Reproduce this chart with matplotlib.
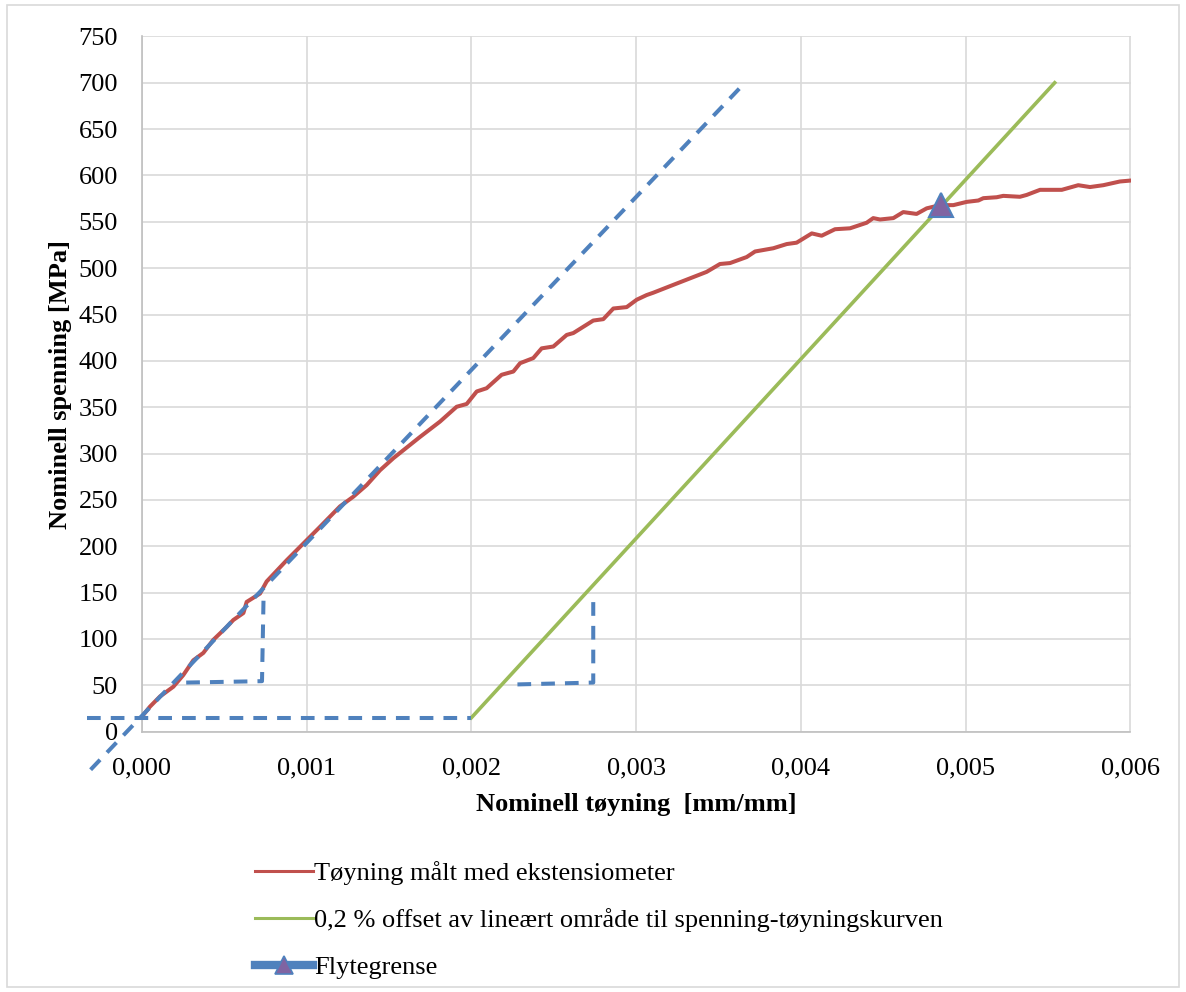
import numpy as np
import matplotlib.pyplot as plt
from matplotlib.lines import Line2D
from matplotlib.patches import Rectangle
from matplotlib.ticker import FuncFormatter

# measured stress-strain curve (extensometer)
strain = [0.0, 0.00005, 0.000111, 0.000192, 0.000252, 0.000313, 0.000374, 0.000434,
          0.000516, 0.000556, 0.000617, 0.000637, 0.000718, 0.000758, 0.00088, 0.000981,
          0.001082, 0.001203, 0.001284, 0.001365, 0.001446, 0.001527, 0.001689, 0.00181,
          0.001911, 0.001972, 0.002033, 0.002093, 0.002184, 0.002255, 0.002296, 0.002376,
          0.002427, 0.002498, 0.002579, 0.002619, 0.00274, 0.002801, 0.002862, 0.002943,
          0.003004, 0.003064, 0.003104, 0.003226, 0.003327, 0.003428, 0.003509, 0.00357,
          0.003671, 0.003722, 0.003833, 0.003914, 0.003974, 0.004066, 0.004126, 0.004207,
          0.004298, 0.004399, 0.004439, 0.00448, 0.004561, 0.004621, 0.004702, 0.004763,
          0.004844, 0.004925, 0.005006, 0.005077, 0.005107, 0.005188, 0.005228, 0.005329,
          0.00537, 0.005451, 0.005583, 0.005683, 0.005754, 0.005835, 0.005936, 0.006]
stress = [16, 27, 38, 48.5, 61, 77, 85, 99,
          113, 120.5, 128, 140, 149, 162, 185, 203,
          221, 243, 253.5, 266, 282, 295, 318, 334.5,
          350.5, 353.5, 367, 370.5, 385, 388.5, 397.5, 403,
          413.5, 415.5, 428, 430, 443.5, 445, 456.5, 458,
          466, 471, 473.5, 482, 489, 496, 504.5, 505.5,
          512, 518, 521.5, 526, 527.5, 537.5, 535, 542,
          543, 549, 554, 552.5, 554, 560.5, 558.5, 564.5,
          568, 568, 571.5, 573, 575.5, 576.5, 578, 577,
          579, 584.5, 584.5, 589.5, 587.5, 589.5, 593.5, 594.5]

# 0,2 % offset line
offset_x = [0.002, 0.00554]
offset_y = [15, 700]

# elastic (linear) line and helper lines
elastic_x = [-0.00031, 0.00366]
elastic_y = [-41, 700]
base_x = [-0.00033, 0.002]
base_y = [15, 15]
tri1_x = [0.00027, 0.00073, 0.00074]
tri1_y = [53, 54.5, 151]
tri2_x = [0.00228, 0.00274, 0.00274]
tri2_y = [51, 53, 143]

# yield point
yield_x = [0.004848]
yield_y = [568]

xticks = [0.0, 0.001, 0.002, 0.003, 0.004, 0.005, 0.006]
yticks = list(range(0, 751, 50))

RED = "#C0504D"
GREEN = "#9BBB59"
BLUE = "#4F81BD"
PURPLE = "#8064A2"

plt.rcParams["font.family"] = ["Liberation Serif", "DejaVu Serif"]
FS = 19

fig = plt.figure(figsize=(11.86, 9.92), dpi=100)
fig.patches.append(Rectangle((7 / 1186, 5 / 992), 1172 / 1186, 982 / 992,
                             transform=fig.transFigure, fill=False,
                             edgecolor="#D9D9D9", linewidth=1.2))

ax = fig.add_axes([141.7 / 1186, 260.3 / 992, 988.8 / 1186, 695.3 / 992])

ax.plot(offset_x, offset_y, color=GREEN, lw=2.6, zorder=3)
ax.plot(strain, stress, color=RED, lw=2.9, zorder=4)

dash = dict(color=BLUE, lw=2.9, linestyle=(0, (3.4, 2.5)), clip_on=False, zorder=5,
            solid_capstyle="butt", dash_capstyle="butt")
ax.plot(elastic_x, elastic_y, **dash)
ax.plot(base_x, base_y, **dash)
ax.plot(tri1_x, tri1_y, **dash)
ax.plot(tri2_x, tri2_y, **dash)

ax.plot(yield_x, yield_y, linestyle="none", marker="^", markersize=17,
        markerfacecolor=PURPLE, markeredgecolor=BLUE, markeredgewidth=1.5,
        zorder=6, clip_on=False)

ax.set_xlim(0, 0.006)
ax.set_ylim(0, 750)
ax.set_xticks(xticks)
ax.set_yticks(yticks)
ax.xaxis.set_major_formatter(FuncFormatter(lambda v, p: f"{v:.3f}".replace(".", ",")))
ax.tick_params(axis="both", length=0, labelsize=FS)
ax.tick_params(axis="x", pad=18.5)
ax.tick_params(axis="y", pad=17)
ax.grid(True, color="#D9D9D9", lw=1.2)
ax.set_axisbelow(True)
for s in ["top", "right"]:
    ax.spines[s].set_visible(False)
for s in ["left", "bottom"]:
    ax.spines[s].set_color("#BFBFBF")
    ax.spines[s].set_linewidth(1.2)

ax.set_xlabel("Nominell tøyning  [mm/mm]", fontsize=FS, fontweight="bold", labelpad=10)
ax.set_ylabel("Nominell spenning [MPa]", fontsize=FS, fontweight="bold", labelpad=5)

handles = [
    Line2D([], [], color=RED, lw=2.2),
    Line2D([], [], color=GREEN, lw=2.2),
    Line2D([], [], color=BLUE, lw=6, marker="^", markersize=13,
           markerfacecolor=PURPLE, markeredgecolor=BLUE, markeredgewidth=1.2),
]
labels = ["Tøyning målt med ekstensiometer",
          "0,2 % offset av lineært område til spenning-tøyningskurven",
          "Flytegrense"]
fig.legend(handles, labels, loc="upper left", bbox_to_anchor=(255 / 1186, 131 / 992),
           frameon=False, fontsize=FS, borderpad=0, borderaxespad=0,
           handlelength=2.2, handletextpad=0.05, labelspacing=0.88)

fig.savefig("out.png", dpi=100)
